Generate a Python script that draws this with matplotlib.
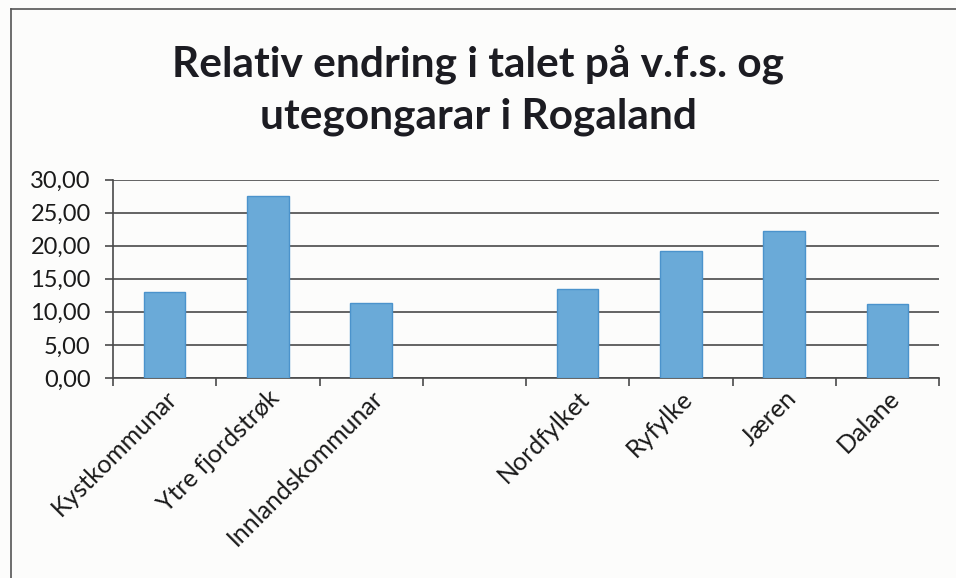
import matplotlib as mpl
mpl.use("Agg")
import matplotlib.pyplot as plt
from matplotlib.lines import Line2D
import numpy as np

categories = ["Kystkommunar", "Ytre fjordstrøk", "Innlandskommunar", "",
              "Nordfylket", "Ryfylke", "Jæren", "Dalane"]
values = [13.0, 27.5, 11.4, np.nan, 13.5, 19.2, 22.2, 11.2]
y_ticks = [0, 5, 10, 15, 20, 25, 30]
title = "Relativ endring i talet på v.f.s. og\nutegongarar i Rogaland"

plt.rcParams["font.family"] = ["Lato", "DejaVu Sans"]

fig = plt.figure(figsize=(9.56, 5.78), dpi=100)
fig.patch.set_facecolor("#fcfcfb")
ax = fig.add_axes([113 / 956, 1 - 378 / 578, (939 - 113) / 956, (378 - 179.5) / 578])
ax.set_facecolor("none")

x = np.arange(len(categories))
ax.bar(x, values, width=0.4, color="#6aaad8", edgecolor="#4b93cc", linewidth=1, zorder=3)

ax.set_xlim(-0.5, len(categories) - 0.5)
ax.set_ylim(0, 30)
ax.set_yticks(y_ticks)
ax.set_yticklabels([f"{v:.2f}".replace(".", ",") for v in y_ticks], fontsize=17, color="#1a1a1a")
ax.yaxis.grid(True, color="#4a4a4a", linewidth=1.2, zorder=0)
ax.set_xticks(np.arange(len(categories) + 1) - 0.5, minor=False)
ax.set_xticklabels([])
ax.set_xticks(x, minor=True)
ax.set_xticklabels(categories, minor=True, rotation=45, ha="right",
                   rotation_mode="anchor", fontsize=18, color="#1a1a1a")
ax.tick_params(axis="x", which="major", length=6, width=1.2, color="#4a4a4a")
ax.tick_params(axis="x", which="minor", length=0, pad=6)
ax.tick_params(axis="y", length=6, width=1.2, color="#4a4a4a", pad=10)

for side in ["top", "right"]:
    ax.spines[side].set_visible(False)
for side in ["left", "bottom"]:
    ax.spines[side].set_color("#4a4a4a")
    ax.spines[side].set_linewidth(1.2)

fig.text(0.5, 1 - 90 / 578, title, ha="center", va="center",
         fontsize=30.5, fontweight="bold", color="#1c1c22", linespacing=1.42)

# scanned frame edges
fig.add_artist(Line2D([11 / 956, 11 / 956], [0, 1 - 9 / 578], color="#555555", lw=1.2))
fig.add_artist(Line2D([11 / 956, 1], [1 - 9 / 578, 1 - 9 / 578], color="#555555", lw=1.2))

fig.savefig("out.png", dpi=100, facecolor=fig.get_facecolor())
